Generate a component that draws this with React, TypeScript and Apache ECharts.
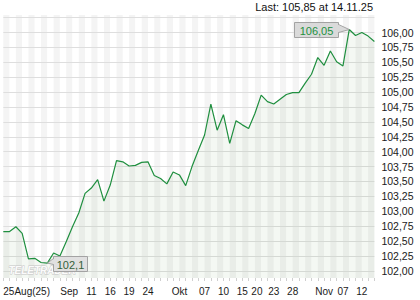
import React, { useEffect, useRef } from 'react';
import * as echarts from 'echarts';

// Trading days 25.08.2025 - 14.11.2025
const dates = [
  '25.08.', '26.08.', '27.08.', '28.08.', '29.08.',
  '01.09.', '02.09.', '03.09.', '04.09.', '05.09.', '08.09.', '09.09.', '10.09.', '11.09.', '12.09.',
  '15.09.', '16.09.', '17.09.', '18.09.', '19.09.', '22.09.', '23.09.', '24.09.', '25.09.', '26.09.',
  '29.09.', '30.09.',
  '01.10.', '02.10.', '03.10.', '06.10.', '07.10.', '08.10.', '09.10.', '10.10.', '13.10.', '14.10.',
  '15.10.', '16.10.', '17.10.', '20.10.', '21.10.', '22.10.', '23.10.', '24.10.', '27.10.', '28.10.',
  '29.10.', '30.10.', '31.10.',
  '03.11.', '04.11.', '05.11.', '06.11.', '07.11.', '10.11.', '11.11.', '12.11.', '13.11.', '14.11.',
];

const prices = [
  102.66, 102.66, 102.74, 102.63, 102.2, 102.21, 102.14, 102.13, 102.3, 102.25,
  102.49, 102.74, 102.97, 103.3, 103.39, 103.53, 103.17, 103.44, 103.85, 103.83,
  103.76, 103.77, 103.82, 103.83, 103.6, 103.55, 103.46, 103.66, 103.61, 103.43,
  103.75, 104.02, 104.28, 104.8, 104.36, 104.62, 104.14, 104.52, 104.45, 104.39,
  104.64, 104.95, 104.84, 104.8, 104.88, 104.96, 104.99, 104.99, 105.15, 105.3,
  105.58, 105.45, 105.69, 105.51, 105.44, 106.05, 105.95, 106.0, 105.94, 105.85,
];

// x-axis tick labels (position index -> text)
const xLabelIndices = [0, 10, 14, 17, 20, 23, 28, 32, 35, 38, 40, 43, 46, 51, 54, 57];
const xLabelTexts = ['25Aug(25)', 'Sep', '11', '16', '19', '24', 'Okt', '07', '10', '15', '20', '23', '28', 'Nov', '07', '12'];

// y-axis
const yGridValues = [102, 102.25, 102.5, 102.75, 103, 103.25, 103.5, 103.75, 104, 104.25, 104.5, 104.75, 105, 105.25, 105.5, 105.75, 106, 106.25];
const yLabelValues = [102, 102.25, 102.5, 102.75, 103, 103.25, 103.5, 103.75, 104, 104.25, 104.5, 104.75, 105, 105.25, 105.5, 105.75, 106];
const yMin = 101.88;
const yMax = 106.294;

const titleText = 'Last: 105,85 at 14.11.25';
const FONT = '"Liberation Sans", Arial, sans-serif';

export default function App() {
  const ref = useRef<HTMLDivElement>(null);
  useEffect(() => {
    document.body.style.margin = '0';
    if (!ref.current) return;
    const chart = echarts.init(ref.current, undefined, { renderer: 'svg' });
    const fmt = (v: number) => v.toFixed(2).replace('.', ',');
    chart.setOption({
      animation: false,
      grid: { left: 3.3, right: 45.6, top: 15, bottom: 22, containLabel: false, outerBoundsMode: 'none' },
      xAxis: {
        type: 'category',
        data: dates,
        boundaryGap: false,
        axisLine: { show: false },
        axisTick: { show: true, interval: 0, length: 3, lineStyle: { color: '#cfcfcf' } },
        axisLabel: {
          interval: (idx: number) => xLabelIndices.indexOf(idx) >= 0,
          formatter: (_v: string, idx: number) => {
            const k = xLabelIndices.indexOf(idx);
            if (k < 0) return '';
            const t = xLabelTexts[k];
            // small nudges to the right, as in the reference
            if (t === 'Sep') return '{n6|' + t + '}';
            if (idx === 40) return '{n4|' + t + '}';
            return t;
          },
          rich: {
            n6: { padding: [0, 0, 0, 6], fontSize: 10, fontFamily: FONT, color: '#1a1a1a' },
            n4: { padding: [0, 0, 0, 4], fontSize: 10, fontFamily: FONT, color: '#1a1a1a' },
          },
          hideOverlap: false,
          alignMinLabel: 'left',
          margin: 8,
          color: '#1a1a1a',
          fontSize: 10,
          fontFamily: FONT,
        },
        splitLine: { show: false },
        splitArea: { show: true, interval: 0, areaStyle: { color: ['#f4f4f4', '#ffffff'] } },
      },
      yAxis: {
        type: 'value',
        position: 'right',
        min: yMin,
        max: yMax,
        axisLine: { show: false },
        axisTick: { show: false },
        axisLabel: {
          customValues: yLabelValues,
          formatter: (v: number) => fmt(v),
          margin: 7,
          color: '#1a1a1a',
          fontSize: 10.5,
          fontFamily: FONT,
        },
        splitLine: { show: false },
        splitArea: { show: false },
      },
      series: [
        {
          type: 'line',
          data: prices,
          showSymbol: false,
          silent: true,
          lineStyle: { color: '#1f8f3f', width: 1.2 },
          areaStyle: { color: 'rgba(80,150,70,0.09)', origin: 'start' },
          z: 3,
          markLine: {
            z: 1,
            silent: true,
            animation: false,
            symbol: 'none',
            label: { show: false },
            emphasis: { disabled: true },
            lineStyle: { type: 'solid', color: '#dedede', width: 1 },
            data: yGridValues.map((v) => ({ yAxis: v })),
          },
        },
      ],
    });

    let maxIdx = 0;
    let minIdx = 0;
    prices.forEach((p, i) => {
      if (p > prices[maxIdx]) maxIdx = i;
      if (p < prices[minIdx]) minIdx = i;
    });
    const [mx, my] = chart.convertToPixel({ seriesIndex: 0 }, [maxIdx, prices[maxIdx]]) as number[];
    const [nx, ny] = chart.convertToPixel({ seriesIndex: 0 }, [minIdx, prices[minIdx]]) as number[];

    const boxFill = '#dadada';
    const boxStroke = '#a3a3a3';
    const mw = 44, mh = 15;
    const mbx = Math.round(mx - 11 - mw) + 0.5;
    const mby = Math.round(my - 7.5) + 0.5;
    const nw = 34, nh = 15;
    const nbx = Math.round(nx + 6) + 0.5;
    const nby = Math.round(ny - 7.5) + 0.5;

    chart.setOption({
      graphic: [
        {
          type: 'text',
          left: 8,
          top: 265,
          z: 5,
          silent: true,
          style: {
            text: 'TELETRADER',
            font: 'italic bold 10px ' + FONT,
            fill: '#fbfbfb',
            stroke: '#c4c4c4',
            lineWidth: 0.8,
          },
        },
        {
          type: 'text',
          right: 47,
          top: 1,
          style: { text: titleText, font: '11px ' + FONT, fill: '#111111' },
        },
        {
          type: 'rect',
          z: 10,
          shape: { x: mbx, y: mby, width: mw, height: mh },
          style: { fill: boxFill, stroke: boxStroke, lineWidth: 1 },
        },
        {
          type: 'polygon',
          z: 11,
          shape: { points: [[mbx + mw - 1, mby + 2], [mx, my], [mbx + mw - 1, mby + 10]] },
          style: { fill: boxFill },
        },
        {
          type: 'polyline',
          z: 11,
          shape: { points: [[mbx + mw, mby + 2], [mx, my], [mbx + mw, mby + 10]] },
          style: { stroke: boxStroke, lineWidth: 1, fill: null },
        },
        {
          type: 'text',
          z: 12,
          x: mbx + mw / 2,
          y: mby + mh / 2 + 0.5,
          style: { text: '106,05', font: '11px ' + FONT, fill: '#22913f', align: 'center', verticalAlign: 'middle' },
        },
        {
          type: 'rect',
          z: 10,
          shape: { x: nbx, y: nby, width: nw, height: nh },
          style: { fill: '#e0e0e0', stroke: boxStroke, lineWidth: 1 },
        },
        {
          type: 'polygon',
          z: 11,
          shape: { points: [[nbx + 1, nby + 2], [nx, ny], [nbx + 1, nby + 8]] },
          style: { fill: '#e0e0e0' },
        },
        {
          type: 'polyline',
          z: 11,
          shape: { points: [[nbx, nby + 2], [nx, ny], [nbx, nby + 8]] },
          style: { stroke: boxStroke, lineWidth: 1, fill: null },
        },
        {
          type: 'text',
          z: 12,
          x: nbx + nw / 2,
          y: nby + nh / 2 + 0.5,
          style: { text: '102,1', font: '11px ' + FONT, fill: '#35603a', align: 'center', verticalAlign: 'middle' },
        },
      ],
    });

    return () => chart.dispose();
  }, []);
  return <div ref={ref} style={{ width: 420, height: 300 }} />;
}
